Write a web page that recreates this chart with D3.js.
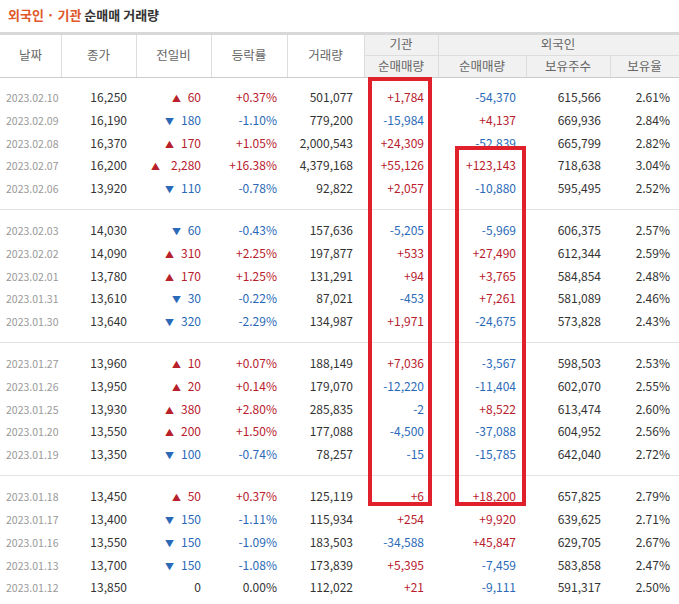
<!DOCTYPE html><html><head><meta charset="utf-8"><script src="https://cdn.jsdelivr.net/npm/d3@7"></script>
<style>body{margin:0;background:#fff}</style></head><body><svg id="c" width="679" height="604"></svg>
<script>
const dates=["2023.02.10","2023.02.09","2023.02.08","2023.02.07","2023.02.06","2023.02.03","2023.02.02","2023.02.01","2023.01.31","2023.01.30","2023.01.27","2023.01.26","2023.01.25","2023.01.20","2023.01.19","2023.01.18","2023.01.17","2023.01.16","2023.01.13","2023.01.12"];
const close=[16250,16190,16370,16200,13920,14030,14090,13780,13610,13640,13960,13950,13930,13550,13350,13450,13400,13550,13700,13850];
const change=[60,-180,170,2280,-110,-60,310,170,-30,-320,10,20,380,200,-100,50,-150,-150,-150,0];
const rate=[0.37,-1.10,1.05,16.38,-0.78,-0.43,2.25,1.25,-0.22,-2.29,0.07,0.14,2.80,1.50,-0.74,0.37,-1.11,-1.09,-1.08,0.00];
const volume=[501077,779200,2000543,4379168,92822,157636,197877,131291,87021,134987,188149,179070,285835,177088,78257,125119,115934,183503,173839,112022];
const inst=[1784,-15984,24309,55126,2057,-5205,533,94,-453,1971,7036,-12220,-2,-4500,-15,6,254,-34588,5395,21];
const foreign=[-54370,4137,-52839,123143,-10880,-5969,27490,3765,7261,-24675,-3567,-11404,8522,-37088,-15785,18200,9920,45847,-7459,-9111];
const holdings=[615566,669936,665799,718638,595495,606375,612344,584854,581089,573828,598503,602070,613474,604952,642040,657825,639625,629705,583858,591317];
const ratio=[2.61,2.84,2.82,3.04,2.52,2.57,2.59,2.48,2.46,2.43,2.53,2.55,2.60,2.56,2.72,2.79,2.71,2.67,2.47,2.50];

const svg=d3.select("#c"),F="'Noto Sans CJK KR','Noto Sans',sans-serif";
const RED="#b8202c",BLUE="#2a69b7";
const t=svg.append("text").attr("x",8).attr("y",20).attr("font-family",F).attr("font-size",13).attr("font-weight","bold");
t.append("tspan").attr("fill","#e0582b").text("외국인 · 기관 ");t.append("tspan").attr("fill","#333").text("순매매 거래량");
const edges=[0,61,136,211,287,364,438,526,610,679];
svg.append("rect").attr("x",364).attr("y",34).attr("width",315).attr("height",43).attr("fill","#f1f1f1");
svg.append("rect").attr("x",0).attr("y",32).attr("width",679).attr("height",3).attr("fill","#d8d8d8");
svg.append("line").attr("x1",364).attr("x2",679).attr("y1",55.5).attr("y2",55.5).attr("stroke","#ddd");
svg.append("line").attr("x1",0).attr("x2",679).attr("y1",77.5).attr("y2",77.5).attr("stroke","#ccc");
edges.slice(1,-1).forEach(x=>svg.append("line").attr("x1",x+.5).attr("x2",x+.5).attr("y1",x>438?55:35).attr("y2",77).attr("stroke","#ddd"));
const mid=i=>(edges[i]+edges[i+1])/2;
const ht=(x,y,s)=>svg.append("text").attr("x",x).attr("y",y).attr("text-anchor","middle").attr("font-family",F).attr("font-size",12.5).attr("fill","#666").text(s);
["날짜","종가","전일비","등락률","거래량"].forEach((s,i)=>ht(mid(i),60,s));
ht(401,49,"기관");ht(558,49,"외국인");ht(401,71,"순매매량");
["순매매량","보유주수","보유율"].forEach((s,i)=>ht(mid(i+6),71,s));
const row=d3.scaleLinear().domain([0,1]).range([98,120.75]);
const yOf=i=>row(Math.floor(i/5)*5.85+i%5);
[1,2,3].forEach(g=>svg.append("line").attr("x1",0).attr("x2",679).attr("y1",Math.round(yOf(g*5)-22)+.5).attr("y2",Math.round(yOf(g*5)-22)+.5).attr("stroke","#e3e3e3"));
const fmt=v=>d3.format(",")(v).replace("\u2212","-"),sg=v=>v>0?"+"+fmt(v):fmt(v),col=v=>v>0?RED:v<0?BLUE:"#333";
const cell=(x,y,s,c,sz,anch)=>svg.append("text").attr("x",x).attr("y",y+4).attr("text-anchor",anch||"end").attr("font-family",F).attr("font-size",sz||12).attr("fill",c).text(s);
dates.forEach((d,i)=>{const y=yOf(i);
 cell(6,y,d,"#999",10.5,"start");
 cell(127,y,fmt(close[i]),"#333");
 const c=change[i];
 cell(201,y,fmt(Math.abs(c)),col(c));
 if(c!==0)cell(201-fmt(Math.abs(c)).length*7-6,y,c>0?"▲":"▼",col(c),9);
 cell(277,y,(rate[i]>0?"+":"")+rate[i].toFixed(2)+"%",col(rate[i]));
 cell(353,y,fmt(volume[i]),"#333");
 cell(424,y,sg(inst[i]),col(inst[i]));
 cell(516,y,sg(foreign[i]),col(foreign[i]));
 cell(601,y,fmt(holdings[i]),"#333");
 cell(670,y,ratio[i].toFixed(2)+"%","#333");
});
svg.append("rect").attr("x",370).attr("y",79).attr("width",60).attr("height",425).attr("fill","none").attr("stroke","#e0202a").attr("stroke-width",4);
svg.append("rect").attr("x",457).attr("y",148).attr("width",67).attr("height",356).attr("fill","none").attr("stroke","#e0202a").attr("stroke-width",4);
</script></body></html>
